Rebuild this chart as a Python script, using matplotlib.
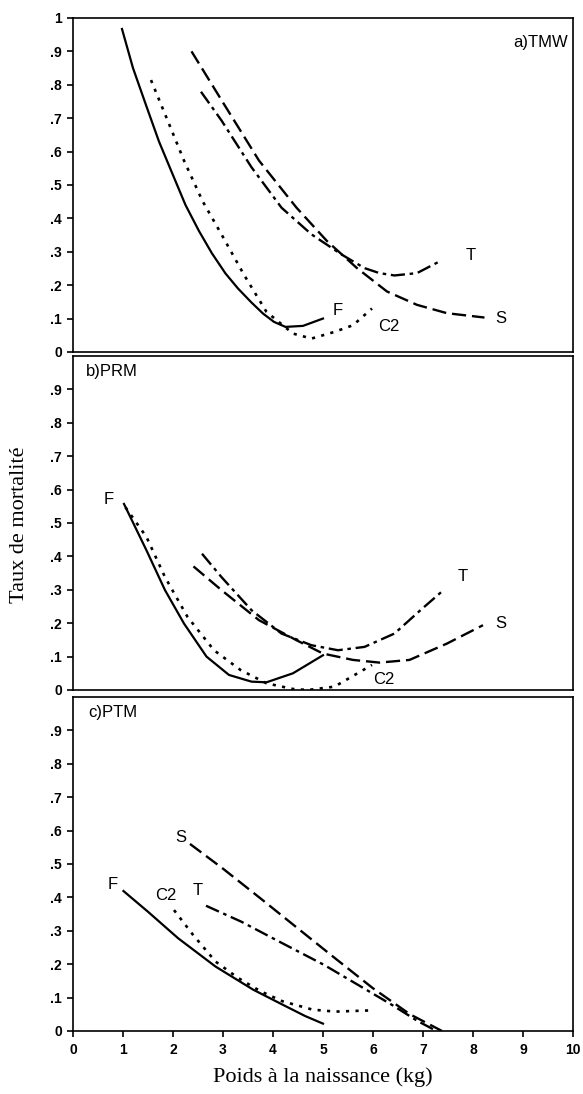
import matplotlib
matplotlib.use('Agg')
import matplotlib.pyplot as plt

# a) TMW
a_f_x = [0.98, 1.2, 1.47, 1.72, 1.99, 2.25, 2.52, 2.78, 3.05, 3.3, 3.57, 3.8, 4.02, 4.25, 4.6, 5.0]
a_f_y = [0.967, 0.85, 0.735, 0.63, 0.533, 0.44, 0.362, 0.295, 0.235, 0.19, 0.148, 0.115, 0.09, 0.075, 0.078, 0.10]
a_c2_x = [1.56, 1.92, 2.22, 2.59, 2.97, 3.42, 3.87, 4.4, 4.77, 5.23, 5.6, 5.98]
a_c2_y = [0.814, 0.683, 0.573, 0.452, 0.352, 0.231, 0.12, 0.055, 0.04, 0.06, 0.08, 0.13]
a_s_x = [2.37, 2.97, 3.72, 4.47, 5.08, 5.68, 6.28, 6.88, 7.48, 8.23]
a_s_y = [0.90, 0.754, 0.573, 0.432, 0.332, 0.251, 0.181, 0.141, 0.116, 0.103]
a_t_x = [2.56, 2.97, 3.57, 4.17, 4.77, 5.38, 5.83, 6.13, 6.43, 6.88, 7.33]
a_t_y = [0.779, 0.693, 0.553, 0.432, 0.352, 0.291, 0.251, 0.236, 0.229, 0.236, 0.271]

# b) PRM
b_f_x = [1.02, 1.47, 1.84, 2.22, 2.67, 3.12, 3.57, 3.87, 4.4, 5.0]
b_f_y = [0.557, 0.418, 0.299, 0.199, 0.10, 0.045, 0.025, 0.023, 0.05, 0.104]
b_c2_x = [1.05, 1.47, 1.84, 2.29, 2.82, 3.35, 3.87, 4.4, 4.7, 5.23, 5.98]
b_c2_y = [0.547, 0.458, 0.338, 0.219, 0.119, 0.06, 0.02, 0.003, 0.0, 0.01, 0.075]
b_t_x = [2.58, 2.97, 3.57, 4.17, 4.77, 5.3, 5.83, 6.43, 6.95, 7.41]
b_t_y = [0.408, 0.338, 0.239, 0.169, 0.134, 0.119, 0.129, 0.169, 0.239, 0.299]
b_s_x = [2.41, 2.97, 3.72, 4.47, 5.0, 5.6, 6.13, 6.73, 7.48, 8.2]
b_s_y = [0.37, 0.299, 0.209, 0.149, 0.109, 0.09, 0.082, 0.09, 0.139, 0.194]

# c) PTM
c_f_x = [1.01, 1.5, 2.1, 2.85, 3.6, 4.19, 4.64, 5.0]
c_f_y = [0.419, 0.357, 0.278, 0.193, 0.124, 0.079, 0.045, 0.022]
c_c2_x = [2.02, 2.4, 2.85, 3.3, 3.75, 4.19, 4.79, 5.24, 6.03]
c_c2_y = [0.362, 0.288, 0.208, 0.159, 0.119, 0.089, 0.064, 0.058, 0.062]
c_t_x = [2.66, 3.37, 4.12, 5.02, 5.69, 6.37, 6.89, 7.27]
c_t_y = [0.375, 0.327, 0.268, 0.198, 0.139, 0.079, 0.03, 0.0]
c_s_x = [2.34, 3.0, 3.75, 4.49, 5.24, 5.99, 6.74, 7.38]
c_s_y = [0.56, 0.486, 0.397, 0.308, 0.218, 0.129, 0.05, 0.0]

y_ticks = [0, 0.1, 0.2, 0.3, 0.4, 0.5, 0.6, 0.7, 0.8, 0.9, 1.0]
y_labels = ['0', '.1', '.2', '.3', '.4', '.5', '.6', '.7', '.8', '.9', '1']
x_ticks = [0, 1, 2, 3, 4, 5, 6, 7, 8, 9, 10]

sty = {
    'F': dict(ls='-', lw=1.6),
    'C2': dict(ls=(0, (1.2, 2.4)), lw=1.9),
    'T': dict(ls=(0, (6, 2, 1.5, 2)), lw=1.7),
    'S': dict(ls=(0, (6, 2.5)), lw=1.7),
}

fig = plt.figure(figsize=(5.83, 10.94), dpi=100)
left, width, h = 0.1252, 0.8576, 0.3053
ax_a = fig.add_axes([left, 0.6783, width, h])
ax_b = fig.add_axes([left, 0.3693, width, h])
ax_c = fig.add_axes([left, 0.0576, width, h])

lab = dict(fontsize=12, fontfamily='Liberation Sans', color='black')
tk = dict(fontsize=10, fontweight='bold', fontfamily='Liberation Sans')

def base(ax, last=False, top_label=True):
    ax.set_xlim(0, 10)
    ax.set_ylim(0, 1.0)
    n = len(y_ticks) if top_label else len(y_ticks) - 1
    ax.set_yticks(y_ticks[:n])
    ax.set_yticklabels(y_labels[:n], **tk)
    ax.tick_params(axis='y', direction='out', length=4, width=1.2, pad=4)
    for sp in ax.spines.values():
        sp.set_linewidth(1.2)
    if last:
        ax.set_xticks(x_ticks)
        ax.set_xticklabels([str(v) for v in x_ticks], **tk)
        ax.tick_params(axis='x', direction='out', length=4, width=1.2, pad=5)
    else:
        ax.set_xticks([])

# panel a
base(ax_a)
ax_a.plot(a_f_x, a_f_y, color='black', **sty['F'])
ax_a.plot(a_c2_x, a_c2_y, color='black', **sty['C2'])
ax_a.plot(a_s_x, a_s_y, color='black', **sty['S'])
ax_a.plot(a_t_x, a_t_y, color='black', **sty['T'])
ax_a.text(9.9, 0.925, 'a)TMW', ha='right', va='center', **lab)
ax_a.text(7.85, 0.29, 'T', ha='left', va='center', **lab)
ax_a.text(8.45, 0.10, 'S', ha='left', va='center', **lab)
ax_a.text(5.2, 0.125, 'F', ha='left', va='center', **lab)
ax_a.text(6.1, 0.075, 'C2', ha='left', va='center', **lab)

# panel b
base(ax_b, top_label=False)
ax_b.plot(b_f_x, b_f_y, color='black', **sty['F'])
ax_b.plot(b_c2_x, b_c2_y, color='black', **sty['C2'])
ax_b.plot(b_t_x, b_t_y, color='black', **sty['T'])
ax_b.plot(b_s_x, b_s_y, color='black', **sty['S'])
ax_b.text(0.25, 0.955, 'b)PRM', ha='left', va='center', **lab)
ax_b.text(0.72, 0.57, 'F', ha='center', va='center', **lab)
ax_b.text(7.7, 0.34, 'T', ha='left', va='center', **lab)
ax_b.text(8.45, 0.20, 'S', ha='left', va='center', **lab)
ax_b.text(6.0, 0.03, 'C2', ha='left', va='center', **lab)

# panel c
base(ax_c, last=True, top_label=False)
ax_c.plot(c_f_x, c_f_y, color='black', **sty['F'])
ax_c.plot(c_c2_x, c_c2_y, color='black', **sty['C2'])
ax_c.plot(c_t_x, c_t_y, color='black', **sty['T'])
ax_c.plot(c_s_x, c_s_y, color='black', **sty['S'])
ax_c.text(0.3, 0.955, 'c)PTM', ha='left', va='center', **lab)
ax_c.text(2.15, 0.58, 'S', ha='center', va='center', **lab)
ax_c.text(0.8, 0.44, 'F', ha='center', va='center', **lab)
ax_c.text(1.85, 0.405, 'C2', ha='center', va='center', **lab)
ax_c.text(2.5, 0.42, 'T', ha='center', va='center', **lab)

fig.text(0.034, 0.52, 'Taux de mortalité', rotation=90, ha='center', va='center',
         fontsize=16, fontfamily='Liberation Serif')
fig.text(0.553, 0.015, 'Poids à la naissance (kg)', ha='center', va='center',
         fontsize=16, fontfamily='Liberation Serif')

fig.savefig('out.png', dpi=100)
